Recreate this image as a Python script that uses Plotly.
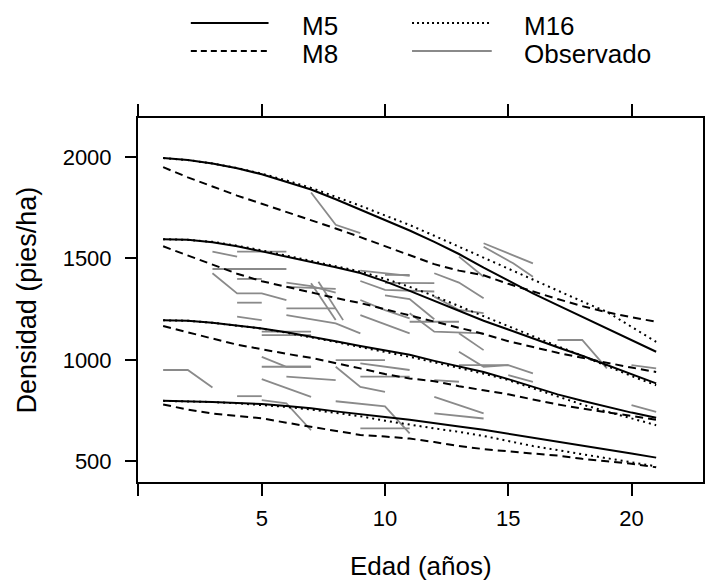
import plotly.graph_objects as go

# ---------------- data ----------------
ages = list(range(1, 22))

# Model M5 (solid)
m5_g2000 = [1995, 1985, 1968, 1945, 1915, 1878, 1840, 1792, 1742, 1690, 1638, 1582, 1522, 1455, 1392, 1328, 1270, 1212, 1155, 1098, 1040]
m5_g1600 = [1595, 1592, 1580, 1560, 1535, 1510, 1485, 1457, 1428, 1387, 1340, 1290, 1240, 1193, 1150, 1105, 1062, 1020, 975, 930, 884]
m5_g1200 = [1195, 1193, 1183, 1170, 1155, 1136, 1115, 1092, 1068, 1048, 1025, 995, 968, 940, 905, 868, 830, 798, 768, 740, 715]
m5_g800 = [798, 796, 792, 787, 782, 772, 761, 746, 731, 718, 705, 690, 672, 655, 636, 617, 598, 578, 558, 538, 518]

# Model M8 (dashed)
m8_g2000 = [1950, 1900, 1855, 1810, 1770, 1730, 1690, 1648, 1605, 1560, 1515, 1472, 1440, 1417, 1375, 1336, 1300, 1265, 1235, 1210, 1188]
m8_g1600 = [1560, 1515, 1470, 1425, 1388, 1360, 1335, 1305, 1280, 1250, 1220, 1190, 1160, 1128, 1092, 1062, 1035, 1010, 985, 962, 940]
m8_g1200 = [1167, 1135, 1105, 1075, 1052, 1030, 1010, 985, 958, 930, 908, 895, 870, 850, 830, 805, 780, 760, 742, 725, 705]
m8_g800 = [780, 755, 735, 722, 712, 690, 670, 650, 630, 622, 612, 595, 575, 560, 548, 538, 528, 512, 500, 488, 470]

# Model M16 (dotted)
m16_g2000 = [1995, 1985, 1968, 1946, 1918, 1885, 1848, 1805, 1760, 1712, 1665, 1612, 1558, 1505, 1450, 1394, 1340, 1288, 1237, 1165, 1089]
m16_g1600 = [1595, 1592, 1582, 1563, 1540, 1515, 1490, 1462, 1435, 1400, 1360, 1315, 1265, 1215, 1165, 1115, 1068, 1020, 970, 920, 875]
m16_g1200 = [1195, 1193, 1183, 1170, 1154, 1134, 1112, 1088, 1063, 1040, 1015, 988, 960, 932, 900, 860, 820, 780, 745, 710, 678]
m16_g800 = [798, 796, 792, 786, 778, 768, 755, 740, 722, 700, 680, 662, 645, 625, 600, 575, 555, 535, 515, 497, 475]

# Observed plots (age lists and density lists, one entry per plot)
obs_ages = [
    [7, 8, 9], [3, 4], [4, 6], [3, 6], [3, 4, 5, 6], [4, 5], [4, 5], [6, 7, 8], [6, 8],
    [7, 8], [7.3, 8.3], [6, 8], [9, 11], [9, 10, 12], [9, 10, 11], [10, 11, 12],
    [14, 16], [14, 15.2, 16], [12, 13, 14], [13, 14], [10, 11], [10, 12], [12, 13, 14],
    [11, 12, 14], [11, 13], [13, 14], [13, 14, 15, 16], [13, 15], [15, 16],
    [17, 18, 19], [20, 21], [20, 21], [12, 13], [12, 14], [12, 14], [4, 5], [6, 8, 9],
    [5, 7], [5, 7], [9, 11], [1, 2, 3], [4, 5], [5, 6, 7], [5, 7], [5, 7], [6, 8],
    [8, 9, 10], [8, 10], [9, 11], [9, 11], [5, 6, 7], [8, 10, 11], [9, 11],
]
obs_dens = [
    [1825, 1666, 1625], [1534, 1509], [1534, 1534], [1448, 1448], [1427, 1328, 1328, 1295], [1399, 1399], [1282, 1282], [1381, 1364, 1331], [1360, 1350],
    [1378, 1196], [1385, 1196], [1254, 1254], [1440, 1414], [1389, 1345, 1337], [1295, 1245, 1205], [1318, 1300, 1200],
    [1575, 1476], [1558, 1476, 1410], [1427, 1381, 1304], [1509, 1410], [1419, 1419], [1380, 1378], [1312, 1246, 1230],
    [1230, 1139, 1131], [1188, 1188], [1131, 1048], [1040, 966, 974, 933], [974, 974], [925, 892],
    [1098, 1098, 958], [974, 958], [777, 744], [900, 892], [818, 736], [736, 711], [1213, 1196], [1221, 1180, 1131],
    [1139, 1139], [1122, 1122], [1221, 1131], [950, 950, 864], [821, 821], [1015, 966, 966], [966, 966], [905, 818], [917, 900],
    [966, 867, 842], [999, 999], [983, 950], [917, 917], [801, 785, 653], [796, 771, 638], [662, 662],
]

x_tickvals = [0, 5, 10, 15, 20]
x_ticktext = ["", "5", "10", "15", "20"]
y_tickvals = [500, 1000, 1500, 2000]

legend_labels = ["M5", "M8", "M16", "Observado"]

# ---------------- figure ----------------
FONT = "Liberation Sans, Arial, Helvetica, sans-serif"
GRAY = "#8a8a8a"
fig = go.Figure()

# observed (gray) drawn first
ox, oy = [], []
for a, d in zip(obs_ages, obs_dens):
    ox += list(a) + [None]
    oy += list(d) + [None]
fig.add_trace(go.Scatter(x=ox, y=oy, mode="lines", line=dict(color=GRAY, width=1.8),
                         showlegend=False, hoverinfo="skip"))

models = [
    ("M5", [m5_g2000, m5_g1600, m5_g1200, m5_g800], "solid"),
    ("M8", [m8_g2000, m8_g1600, m8_g1200, m8_g800], "8px,5px"),
    ("M16", [m16_g2000, m16_g1600, m16_g1200, m16_g800], "2px,4px"),
]
for name, groups, dash in models:
    for g in groups:
        fig.add_trace(go.Scatter(x=ages, y=g, mode="lines", name=name,
                                 line=dict(color="black", width=2, dash=dash),
                                 showlegend=False))

# manual lattice-style key above the panel
L, W = 138.0, 567.0
T, H = 118.0, 364.0
def px(x):
    return (x - L) / W
def py(y):
    return (T + H - y) / H

key = [
    (legend_labels[0], 191, 269, 301, 23, "solid", "black"),
    (legend_labels[1], 191, 269, 301, 51, "dash", "black"),
    (legend_labels[2], 413, 493, 523, 23, "dot", "black"),
    (legend_labels[3], 413, 493, 523, 51, "solid", GRAY),
]
shapes = []
annotations = []
for lab, x0, x1, xt, yl, dash, col in key:
    shapes.append(dict(type="line", xref="paper", yref="paper", x0=px(x0), x1=px(x1),
                       y0=py(yl), y1=py(yl),
                       line=dict(color=col, width=2 if col == "black" else 1.8,
                                 dash={"solid": "solid", "dash": "6px,4px", "dot": "2px,3px"}[dash])))
    annotations.append(dict(text=lab, xref="paper", yref="paper", x=px(xt), y=py(yl + 3),
                            xanchor="left", yanchor="middle", showarrow=False,
                            font=dict(family=FONT, size=26, color="black")))

annotations.append(dict(text="Edad (años)", xref="paper", yref="paper", x=0.5, y=py(566),
                        xanchor="center", yanchor="middle", showarrow=False,
                        font=dict(family=FONT, size=26, color="black")))
annotations.append(dict(text="Densidad (pies/ha)", xref="paper", yref="paper", x=px(27), y=0.5,
                        xanchor="center", yanchor="middle", showarrow=False, textangle=-90,
                        font=dict(family=FONT, size=27, color="black")))

fig.update_layout(
    width=706, height=581,
    margin=dict(l=138, r=1, t=118, b=99, pad=0),
    paper_bgcolor="white", plot_bgcolor="white",
    showlegend=False,
    shapes=shapes, annotations=annotations,
    font=dict(family=FONT, color="black"),
)
fig.update_xaxes(range=[-0.02, 22.9], tickvals=x_tickvals, ticktext=x_ticktext,
                 ticks="outside", ticklen=12, tickwidth=2, tickcolor="black",
                 ticklabelstandoff=4,
                 showline=True, linewidth=2, linecolor="black", mirror="ticks",
                 showgrid=False, zeroline=False,
                 tickfont=dict(family=FONT, size=22, color="black"))
fig.update_yaxes(range=[397.8, 2192.6], tickvals=y_tickvals,
                 ticks="outside", ticklen=11, tickwidth=2, tickcolor="black",
                 ticklabelstandoff=9,
                 showline=True, linewidth=2, linecolor="black", mirror=True,
                 showgrid=False, zeroline=False,
                 tickfont=dict(family=FONT, size=22, color="black"))

fig.write_html("out.html")
